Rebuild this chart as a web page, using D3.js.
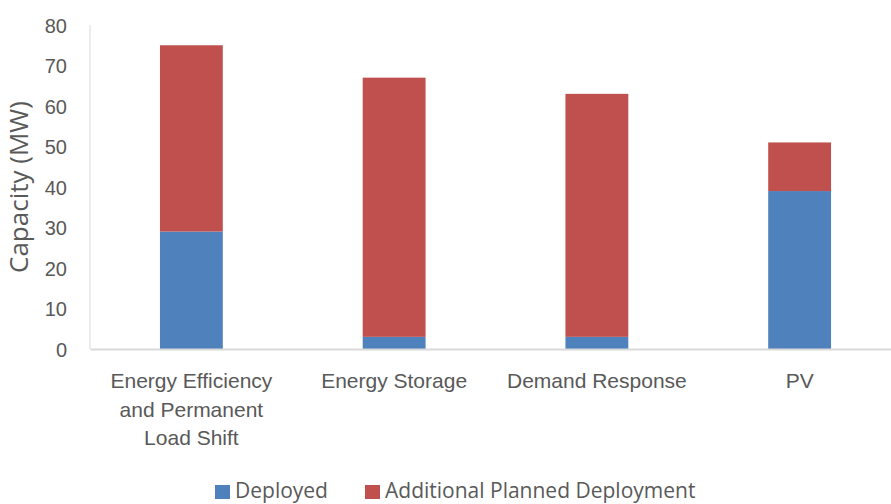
<!DOCTYPE html>
<html>
<head>
<meta charset="utf-8">
<script src="https://cdn.jsdelivr.net/npm/d3@7"></script>
<style>
  body { margin: 0; background: #fff; }
  svg { font-family: "Open Sans", sans-serif; }
  .yAxis path, .xAxis .tick line, .yAxis .tick line { display: none; }
  .tick text { fill: #595959; }
</style>
</head>
<body>
<svg width="891" height="504"></svg>
<script>
var categories = [["Energy Efficiency", "and Permanent", "Load Shift"], ["Energy Storage"], ["Demand Response"], ["PV"]];
var deployed = [29, 3, 3, 39];
var additional = [46, 64, 60, 12];
var seriesNames = ["Deployed", "Additional Planned Deployment"];
var yTicks = [0, 10, 20, 30, 40, 50, 60, 70, 80];

var colors = ["#4F81BD", "#C0504D"];

var svg = d3.select("svg");

var padding = {top: 25, left: 90, right: -10, bottom: 155};
var chartArea = {
  "width": 891 - padding.left - padding.right,
  "height": 504 - padding.top - padding.bottom
};

// build stack rows from the arrays above
var rows = categories.map(function(c, i) {
  return {key: i, Deployed: deployed[i], "Additional Planned Deployment": additional[i]};
});
var stacked = d3.stack().keys(seriesNames)(rows);

var yScale = d3.scaleLinear()
  .domain([0, 80])
  .range([chartArea.height, 0]);

var xScale = d3.scaleBand()
  .domain(categories.map(function(d, i) { return i; }))
  .range([0, chartArea.width])
  .paddingInner(0.69)
  .paddingOuter(0.345);

var g = svg.append("g")
  .attr("transform", "translate(" + padding.left + "," + padding.top + ")");

// y axis: labels only, plus a light vertical line
var yAxis = g.append("g")
  .classed("yAxis", true)
  .call(d3.axisLeft(yScale).tickValues(yTicks).tickSize(0).tickPadding(23));
yAxis.selectAll("text").attr("font-size", "20px").attr("dy", "0.35em");

g.append("line")
  .attr("x1", 0).attr("x2", 0)
  .attr("y1", yScale(80)).attr("y2", yScale(0))
  .attr("stroke", "#d9d9d9").attr("stroke-width", 1);

// bars
g.selectAll("g.series").data(stacked).enter()
  .append("g")
  .attr("class", "series")
  .attr("fill", function(d, i) { return colors[i]; })
  .selectAll("rect").data(function(d) { return d; }).enter()
  .append("rect")
  .attr("x", function(d) { return xScale(d.data.key); })
  .attr("width", xScale.bandwidth())
  .attr("y", function(d) { return yScale(d[1]); })
  .attr("height", function(d) { return yScale(d[0]) - yScale(d[1]); });

// x axis
var xAxis = g.append("g")
  .classed("xAxis", true)
  .attr("transform", "translate(0," + chartArea.height + ")")
  .call(d3.axisBottom(xScale).tickSize(0).tickFormat(""));
xAxis.select(".domain").attr("stroke", "#d9d9d9").attr("stroke-width", 2);

xAxis.selectAll(".tick").each(function(d) {
  var t = d3.select(this).append("text")
    .attr("text-anchor", "middle")
    .attr("fill", "#595959")
    .attr("font-size", "21px")
    .attr("y", 39);
  categories[d].forEach(function(line, j) {
    t.append("tspan").attr("x", 0).attr("dy", j === 0 ? 0 : 28.5).text(line);
  });
});

// y title
svg.append("text")
  .attr("transform", "translate(28," + (padding.top + chartArea.height / 2) + ") rotate(-90)")
  .attr("text-anchor", "middle")
  .attr("fill", "#595959")
  .attr("font-size", "26px")
  .text("Capacity (MW)");

// legend
var legendX = [215, 365];
var legend = svg.selectAll("g.legend").data(seriesNames).enter()
  .append("g")
  .attr("class", "legend")
  .attr("transform", function(d, i) { return "translate(" + legendX[i] + ",485)"; });
legend.append("rect")
  .attr("width", 15).attr("height", 14)
  .attr("fill", function(d, i) { return colors[i]; });
legend.append("text")
  .attr("x", 20).attr("y", 13)
  .attr("fill", "#595959")
  .attr("font-size", "21px")
  .text(function(d) { return d; });
</script>
</body>
</html>
